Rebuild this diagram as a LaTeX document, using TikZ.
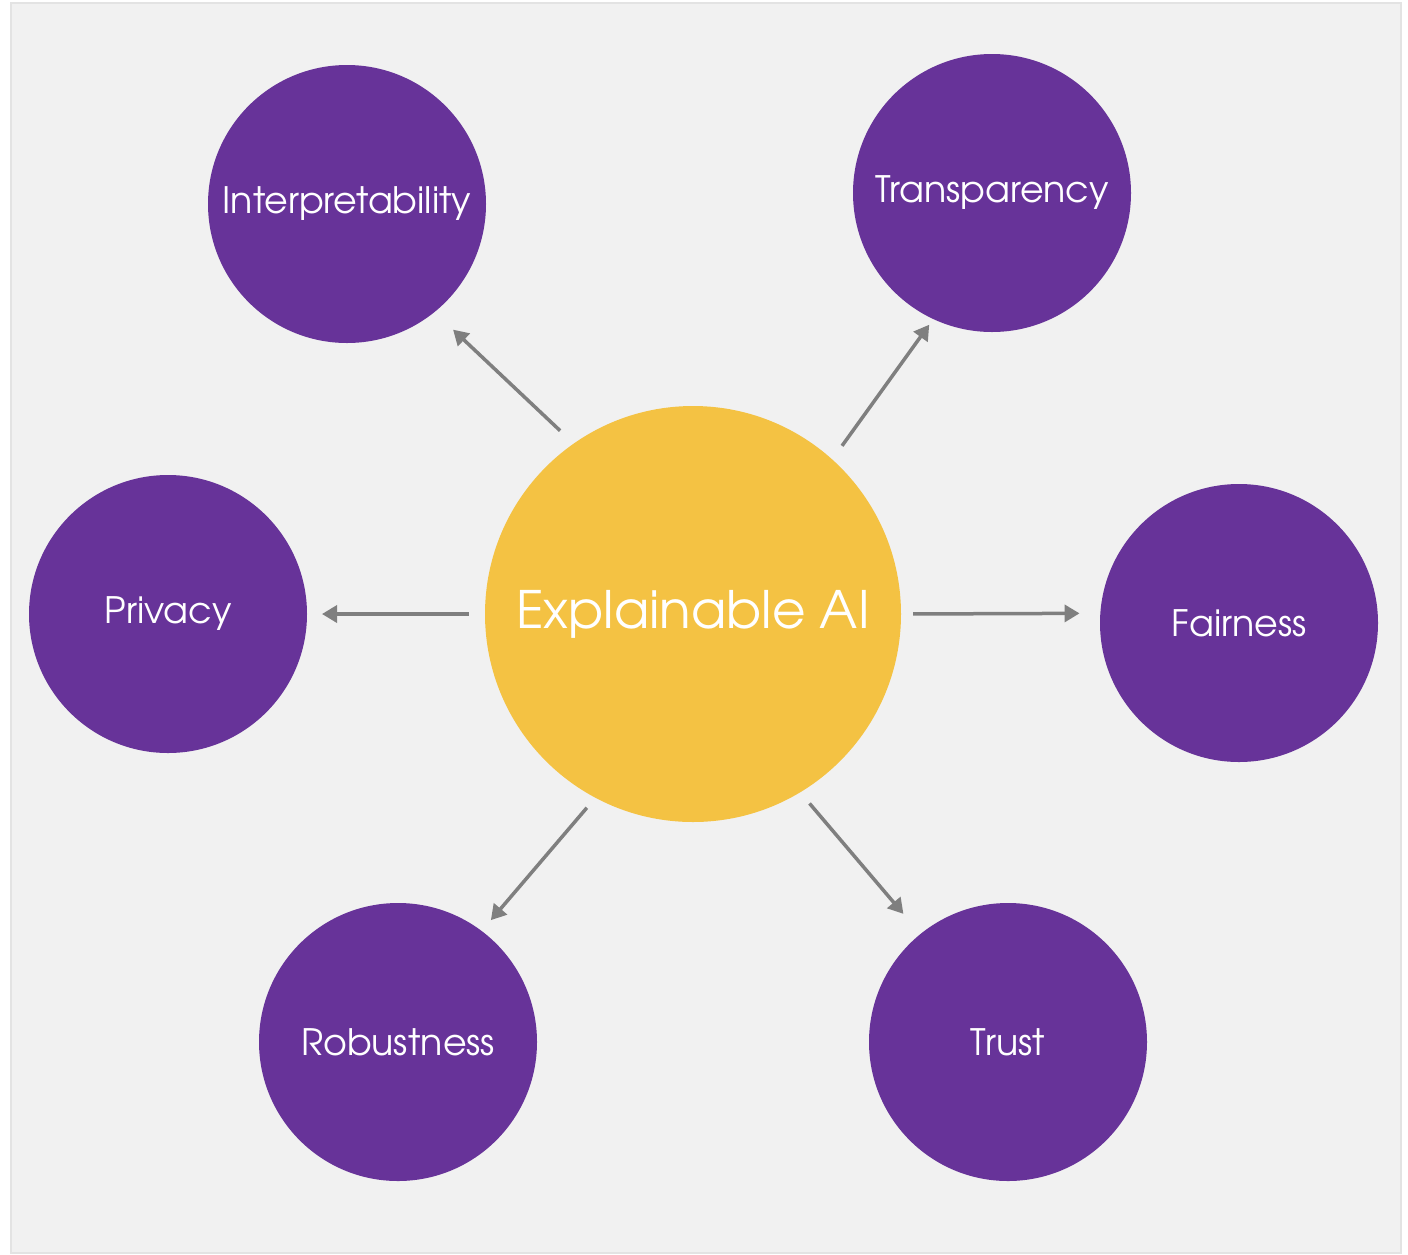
\documentclass[tikz,border=0pt]{standalone}
\usepackage{fontspec}
\setmainfont{TeX Gyre Adventor}
\usetikzlibrary{arrows.meta}
\definecolor{bgfill}{HTML}{F1F1F1}
\definecolor{bgline}{HTML}{E3E3E3}
\definecolor{xpurple}{HTML}{673399}
\definecolor{xyellow}{HTML}{F4C243}
\definecolor{xgray}{HTML}{7F7F7F}
\tikzset{
  topic/.style={circle, fill=xpurple, minimum size=139pt, inner sep=0pt, text=white, font=\fontsize{18.2}{22}\selectfont},
  core/.style={circle, fill=xyellow, minimum size=208pt, inner sep=0pt, text=white, font=\fontsize{25.8}{31}\selectfont},
  arr/.style={draw=xgray, line width=1.75pt, -{Triangle[length=7.5pt,width=8.5pt]}}
}
\begin{document}
\begin{tikzpicture}[x=0.5pt,y=-0.5pt]
\useasboundingbox (0,0) rectangle (1408,1254);
\draw[fill=bgfill, draw=bgline, line width=1pt] (11,3) rectangle (1401,1253);
\node[core]  (c)  at (693,614)  {Explainable AI};
\node[topic] (i)  at (347,204)  {Interpretability};
\node[topic] (t)  at (992,193)  {Transparency};
\node[topic] (p)  at (168,614)  {Privacy};
\node[topic] (f)  at (1239,623) {Fairness};
\node[topic] (r)  at (398,1042) {Robustness};
\node[topic] (tr) at (1008,1042){Trust};
\draw[arr, shorten <=9.2pt, shorten >=12.6pt] (c.125.65) -- (i.-51.2);
\draw[arr, shorten <=8.2pt, shorten >=3.3pt] (c.48.5) -- (t.-115.9);
\draw[arr, shorten <=7.9pt, shorten >=7.3pt] (c.180) -- (p.0);
\draw[arr, shorten <=5.9pt, shorten >=10.2pt] (c.0) -- (f.176.5);
\draw[arr, shorten <=6.4pt, shorten >=6.9pt] (c.-118.3) -- (r.53);
\draw[arr, shorten <=7.1pt, shorten >=13pt] (c.-59.2) -- (tr.129.7);
\end{tikzpicture}
\end{document}
